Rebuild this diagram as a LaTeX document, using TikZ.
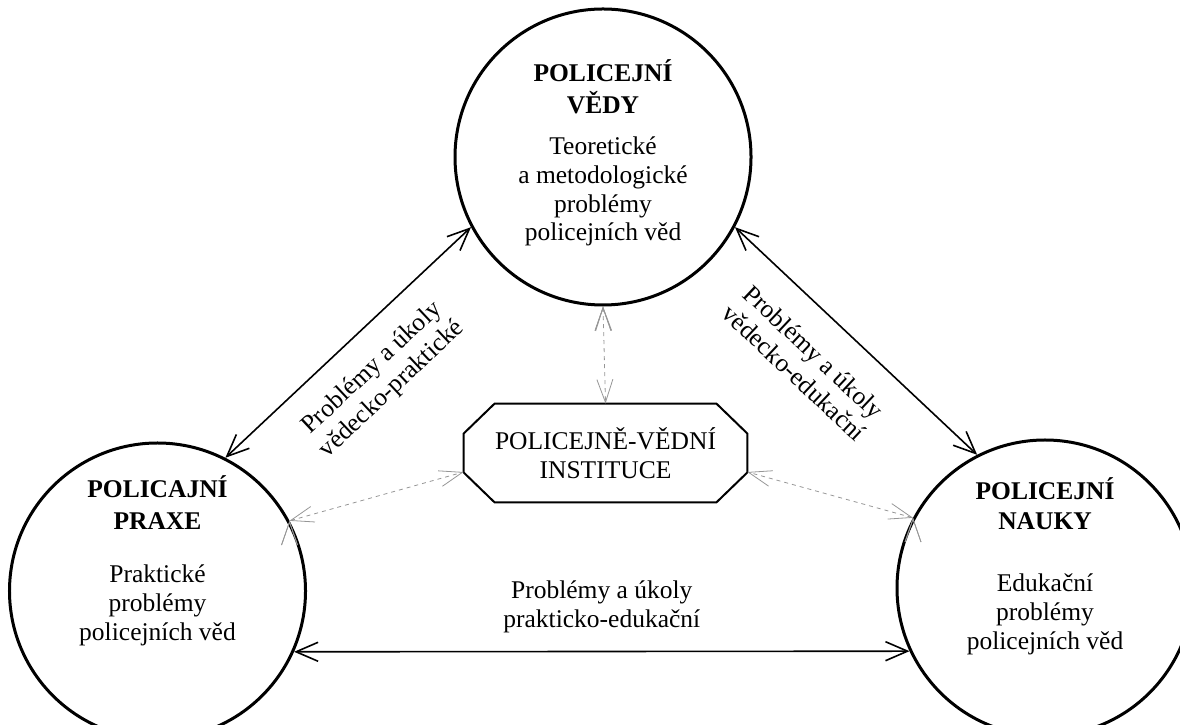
\documentclass[tikz,border=0pt]{standalone}
\usepackage{fontspec}
\setmainfont{Liberation Serif}
\usetikzlibrary{arrows.meta}
\definecolor{weak_out}{RGB}{150, 150, 150}
\newcommand\rad{74bp}
\newcommand\chx{15.5bp}
\newcommand\chy{15bp}
\newcommand\txt{\fontsize{12.8pt}{14.5pt}\selectfont}
\tikzset{field/.style = {circle, inner sep=0pt, minimum size=2*\rad, draw, line width=1.5bp}}
\tikzset{fieldtext/.style = {align=center, inner sep=0pt, font=\txt}}
\tikzset{mypath/.style = {line width=0.8bp, {Straight Barb[length=11bp,width=9.5bp]}-{Straight Barb[length=11bp,width=9.5bp]}}}
\tikzset{weakpath/.style = {line width=0.4bp, draw=weak_out, dash pattern=on 2bp off 2bp, {Straight Barb[length=11.5bp,width=8bp]}-{Straight Barb[length=11.5bp,width=8bp]}}}
\tikzset{pathlabel/.style = {align=center, inner sep=0pt, font=\txt}}

\begin{document}
\begin{tikzpicture}[x=0.5bp,y=0.5bp]
\useasboundingbox (0,0) rectangle (1180,724);

\node[field] (vedy) at (603,567) {};
\node[field] (praxe) at (157.5,133) {};
\node[field] (nauky) at (1045,136) {};

\node[fieldtext] (vedyText) at ([yshift=2bp]vedy.center) {\textbf{POLICEJNÍ}\\[1.5pt]\textbf{VĚDY}\\[6pt]Teoretické\\a metodologické\\problémy\\policejních věd};
\node[fieldtext] (praxeText) at ([yshift=15bp]praxe.center) {\textbf{POLICAJNÍ}\\[1.5pt]\textbf{PRAXE}\\[12pt]Praktické\\problémy\\policejních věd};
\node[fieldtext] (naukyText) at ([yshift=11bp]nauky.center) {\textbf{POLICEJNÍ}\\[1pt]\textbf{NAUKY}\\[16.5pt]Edukační\\problémy\\policejních věd};

\node[fieldtext, minimum width=141.5bp, minimum height=49bp] (inst) at (605.5,271) {POLICEJNĚ-VĚDNÍ\\INSTITUCE};
\draw[line width=1bp] ([xshift=\chx]inst.north west) -- ([xshift=-\chx]inst.north east) -- ([yshift=-\chy]inst.north east) -- ([yshift=\chy]inst.south east) -- ([xshift=-\chx]inst.south east) -- ([xshift=\chx]inst.south west) -- ([yshift=\chy]inst.south west) -- ([yshift=-\chy]inst.north west) -- cycle;
\coordinate (instL) at ([yshift=-9.5bp]inst.west);
\coordinate (instR) at ([yshift=-9.5bp]inst.east);

\path[mypath] (praxe.63) edge node[pathlabel, midway, sloped, below=11.5bp] {Problémy a úkoly\\vědecko-praktické} (vedy.208);
\path[mypath] (vedy.-28) edge node[pathlabel, pos=0.43, sloped, below=13.5bp] {Problémy a úkoly\\vědecko-edukační} (nauky.117);
\path[mypath] (praxe.-24) edge node[pathlabel, midway, above=9bp] {Problémy a úkoly\\prakticko-edukační} (nauky.205);

\path[weakpath] (vedy.south) edge (inst.north);
\path[weakpath] (praxe.28) edge (instL);
\path[weakpath] (nauky.152) edge (instR);
\end{tikzpicture}
\end{document}
